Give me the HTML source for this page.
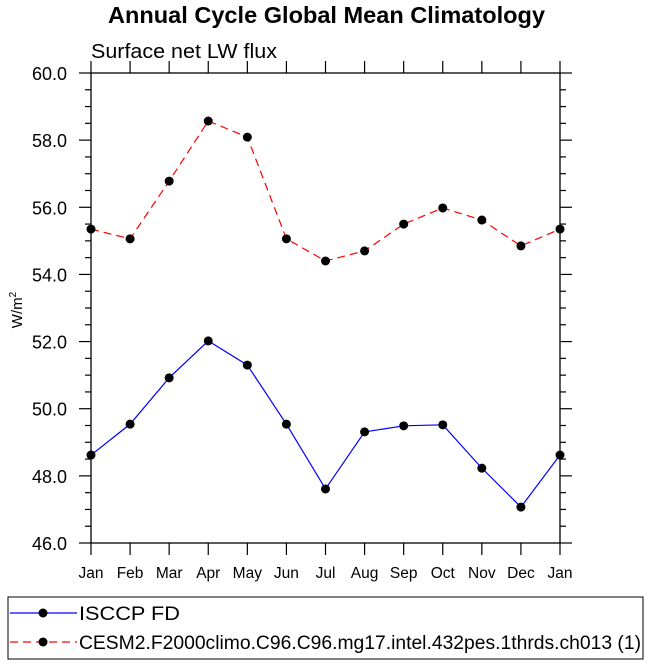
<!DOCTYPE html>
<html><head><meta charset="utf-8"><style>
body{margin:0;background:#fff;}
svg text{font-family:"Liberation Sans",Helvetica,sans-serif;}
</style></head><body>
<svg id="chart" width="649" height="665" viewBox="0 0 649 665">
<text x="108" y="23" font-size="23" font-weight="bold" textLength="437" lengthAdjust="spacingAndGlyphs">Annual Cycle Global Mean Climatology</text>
<text x="91" y="58" font-size="20" textLength="186" lengthAdjust="spacingAndGlyphs">Surface net LW flux</text>
<text transform="translate(22,310) rotate(-90)" text-anchor="middle" font-size="15">W/m<tspan dy="-6" font-size="10">2</tspan></text>
<g id="axes"></g>
<g id="series"></g>
<rect x="8" y="597" width="635" height="62" fill="none" stroke="#000" stroke-width="1"/>
<g>
<line x1="10" y1="613" x2="77" y2="613" stroke="#0000ff" stroke-width="1.2"/>
<circle cx="43" cy="613" r="4.5" fill="#000"/>
<text x="79" y="620" font-size="19" textLength="101" lengthAdjust="spacingAndGlyphs">ISCCP FD</text>
</g>
<g>
<line x1="10" y1="642" x2="77" y2="642" stroke="#ff0000" stroke-width="1.2" stroke-dasharray="8,5"/>
<circle cx="43" cy="642" r="4.5" fill="#000"/>
<text x="79" y="649" font-size="19" textLength="562" lengthAdjust="spacingAndGlyphs">CESM2.F2000climo.C96.C96.mg17.intel.432pes.1thrds.ch013 (1)</text>
</g>
</svg>
<script>
const months = ["Jan","Feb","Mar","Apr","May","Jun","Jul","Aug","Sep","Oct","Nov","Dec","Jan"];
const isccpValues = [48.62,49.54,50.92,52.02,51.30,49.54,47.61,49.31,49.49,49.52,48.23,47.07,48.62];
const cesmValues = [55.35,55.06,56.78,58.57,58.09,55.06,54.40,54.70,55.50,55.98,55.62,54.85,55.35];
const yTicks = [46,48,50,52,54,56,58,60];
const yTickLabels = ["46.0","48.0","50.0","52.0","54.0","56.0","58.0","60.0"];

const NS = "http://www.w3.org/2000/svg";
const L = 91, R = 560, T = 73, B = 543, ymin = 46, ymax = 60;
const xs = i => L + i * (R - L) / (months.length - 1);
const ys = v => B - (v - ymin) / (ymax - ymin) * (B - T);
function mk(tag, attrs, parent){const e=document.createElementNS(NS,tag);for(const k in attrs)e.setAttribute(k,attrs[k]);parent.appendChild(e);return e;}
const axes = document.getElementById("axes");
const series = document.getElementById("series");

const frame = mk("rect",{x:L,y:T,width:R-L,height:B-T,fill:"none",stroke:"#000","stroke-width":1.3},axes);



for (let v = ymin; v <= ymax + 1e-9; v += 0.5) {
  const y = ys(v);
  const major = Math.abs(v - Math.round(v/2)*2) < 1e-9;
  const len = major ? 12 : 6;
  mk("line",{x1:L-len,y1:y,x2:L,y2:y,stroke:"#000","stroke-width":1.2},axes);
  mk("line",{x1:R,y1:y,x2:R+len,y2:y,stroke:"#000","stroke-width":1.2},axes);
}
yTicks.forEach((v,i)=>{
  const t = mk("text",{x:L-24,y:ys(v)+7,"text-anchor":"end","font-size":18},axes);
  t.textContent = yTickLabels[i];
  
  
});
months.forEach((m,i)=>{
  const x = xs(i);
  mk("line",{x1:x,y1:B,x2:x,y2:B+12,stroke:"#000","stroke-width":1.2},axes);
  mk("line",{x1:x,y1:T-12,x2:x,y2:T,stroke:"#000","stroke-width":1.2},axes);
  const t = mk("text",{x:x,y:B+35,"text-anchor":"middle","font-size":15.5},axes);
  t.textContent = m;
  
  
});

function drawSeries(vals, color, dash, name){
  const g = mk("g",{},series);
  
  
  const pts = vals.map((v,i)=>xs(i)+","+ys(v)).join(" ");
  const attrs = {points:pts,fill:"none",stroke:color,"stroke-width":1.2};
  if (dash) attrs["stroke-dasharray"] = dash;
  mk("polyline",attrs,g);
  vals.forEach((v,i)=>{
    const c = mk("circle",{cx:xs(i),cy:ys(v),r:4.5,fill:"#000"},g);
    
    
  });
}
drawSeries(cesmValues, "#ff0000", "8,5", "cesm2-series");
drawSeries(isccpValues, "#0000ff", null, "isccp-series");
</script>
</body></html>
